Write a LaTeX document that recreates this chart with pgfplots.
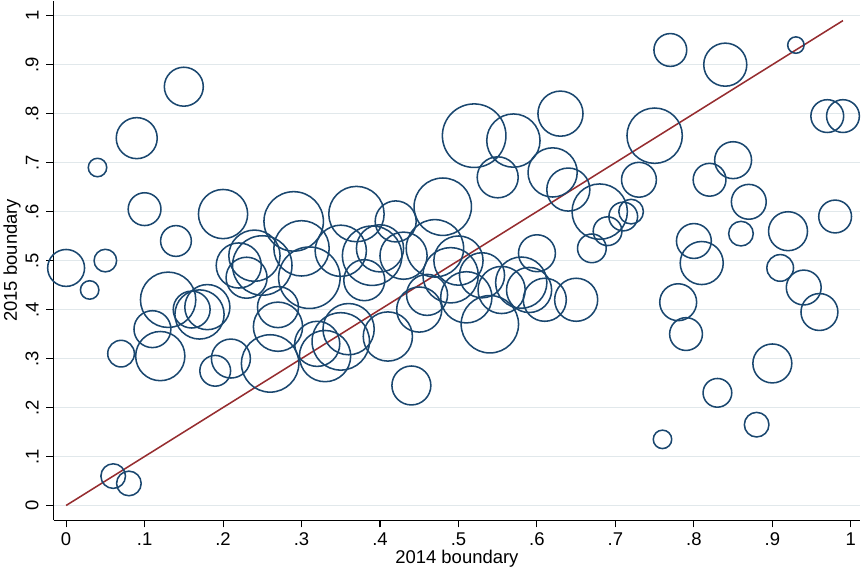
\documentclass[border=0pt]{standalone}
\usepackage{pgfplots}
\pgfplotsset{compat=1.18}
\usepackage{pgfplotstable}
\usepackage{fontspec}
\setmainfont{Liberation Sans}
\definecolor{bub}{RGB}{26,71,111}
\definecolor{ln}{RGB}{150,45,48}
\definecolor{gr}{RGB}{225,232,235}
\pgfplotstableread{
x y r
0.00 0.485 18
0.03 0.44 9
0.04 0.69 9
0.05 0.50 11
0.07 0.31 13
0.06 0.06 12
0.08 0.045 12
0.09 0.75 20
0.10 0.605 16
0.11 0.36 18
0.12 0.305 24
0.13 0.42 27
0.14 0.54 15
0.15 0.855 19
0.16 0.40 18
0.17 0.39 24
0.18 0.405 22
0.19 0.275 15
0.20 0.595 24
0.21 0.30 19
0.22 0.49 22
0.23 0.465 20
0.24 0.51 25
0.25 0.49 29
0.26 0.29 28
0.27 0.405 20
0.27 0.365 24
0.29 0.58 29
0.30 0.525 27
0.31 0.465 30
0.32 0.33 22
0.33 0.305 25
0.35 0.52 25
0.35 0.335 28
0.36 0.36 25
0.37 0.595 27
0.38 0.46 20
0.39 0.51 29
0.40 0.525 23
0.41 0.345 24
0.42 0.58 20
0.43 0.51 23
0.44 0.245 19
0.45 0.40 22
0.46 0.43 20
0.47 0.525 28
0.48 0.61 28
0.49 0.47 27
0.50 0.50 24
0.51 0.425 25
0.52 0.755 31
0.53 0.47 22
0.54 0.37 28
0.55 0.67 20
0.555 0.44 23
0.57 0.745 26
0.58 0.455 25
0.59 0.44 22
0.60 0.515 18
0.61 0.42 21
0.62 0.68 24
0.63 0.80 22
0.64 0.645 21
0.65 0.42 21
0.67 0.525 14
0.68 0.60 27
0.69 0.56 14
0.71 0.59 14
0.72 0.60 12
0.73 0.665 17
0.75 0.755 27
0.76 0.135 9
0.77 0.93 16
0.78 0.415 18
0.79 0.35 16
0.80 0.54 17
0.81 0.495 21
0.82 0.665 16
0.83 0.23 14
0.84 0.90 21
0.85 0.705 18
0.86 0.555 12
0.87 0.62 17
0.88 0.165 12
0.90 0.29 19
0.91 0.485 13
0.92 0.56 19
0.93 0.94 8
0.94 0.445 17
0.96 0.395 18
0.97 0.795 16
0.98 0.59 16
0.99 0.795 16
}\data
\begin{document}
\begin{tikzpicture}
\begin{axis}[
  scale only axis, width=787pt, height=507pt,
  xmin=-0.016, xmax=1.012, ymin=-0.03, ymax=1.031,
  axis lines*=left, axis line style={black, line width=1pt},
  xtick={0,0.1,...,1}, ytick={0,0.1,...,1},
  xticklabels={0,.1,.2,.3,.4,.5,.6,.7,.8,.9,1},
  yticklabels={0,.1,.2,.3,.4,.5,.6,.7,.8,.9,1},
  yticklabel style={rotate=90, anchor=south, yshift=4pt},
  xticklabel style={yshift=-2pt},
  tick style={black, line width=1pt}, major tick length=7pt,
  tick align=outside,
  ymajorgrids, grid style={gr, line width=1.5pt},
  ticklabel style={font=\fontsize{18}{20}\selectfont},
  label style={font=\fontsize{18}{20}\selectfont},
  xlabel={2014 boundary}, ylabel={2015 boundary},
  xlabel style={yshift=3pt}, ylabel style={yshift=-2pt},
  clip=false,
]
\addplot[scatter, only marks, mark=o, draw=bub, line width=1.5pt,
  scatter/use mapped color={draw=bub},
  visualization depends on={\thisrow{r} \as \rr},
  scatter/@pre marker code/.append style={/tikz/mark size=\rr pt}]
  table[x=x,y=y] {\data};
\addplot[ln, line width=1.5pt] coordinates {(0,0) (0.99,0.99)};
\end{axis}
\end{tikzpicture}
\end{document}
